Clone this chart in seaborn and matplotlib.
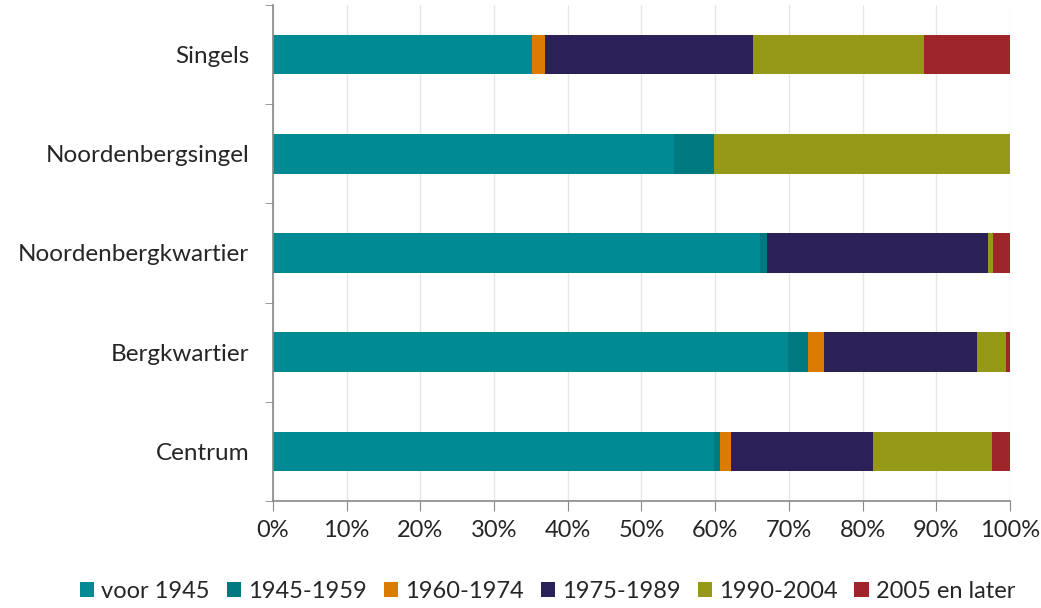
import numpy as np
import pandas as pd
import seaborn as sns
import matplotlib.pyplot as plt
from matplotlib.patches import Patch
from matplotlib.ticker import FixedLocator, PercentFormatter

# share of homes per construction period (%)
areas = ['Singels', 'Noordenbergsingel', 'Noordenbergkwartier', 'Bergkwartier', 'Centrum']
periods = ['voor 1945', '1945-1959', '1960-1974', '1975-1989', '1990-2004', '2005 en later']
voor_1945 = [35.1, 54.4, 66.1, 69.9, 59.8]
p1945_1959 = [0.0, 5.4, 1.0, 2.7, 0.9]
p1960_1974 = [1.8, 0.0, 0.0, 2.2, 1.5]
p1975_1989 = [28.3, 0.0, 29.9, 20.7, 19.2]
p1990_2004 = [23.1, 40.2, 0.7, 4.0, 16.2]
p2005_later = [11.7, 0.0, 2.3, 0.5, 2.4]
colors = ['#008b94', '#007a80', '#d97c00', '#2b2057', '#969818', '#9e262a']

df = pd.DataFrame({'area': areas, 'voor 1945': voor_1945, '1945-1959': p1945_1959,
                   '1960-1974': p1960_1974, '1975-1989': p1975_1989,
                   '1990-2004': p1990_2004, '2005 en later': p2005_later})
cum = df[periods].cumsum(axis=1)
cum['area'] = df['area']

sns.set_style('white')
plt.rcParams['font.family'] = ['Lato', 'DejaVu Sans']

fig = plt.figure(figsize=(10.41, 6.08), dpi=100)
ax = fig.add_axes([0.2622, 0.176, 0.708, 0.8158])

# stacked bars: draw cumulative totals, largest first
for p, c in reversed(list(zip(periods, colors))):
    sns.barplot(data=cum, x=p, y='area', order=areas, color=c, width=0.4,
                orient='h', saturation=1, edgecolor='none', ax=ax)

ax.set_xlim(0, 100)
ax.set_ylim(4.5, -0.5)
ax.set_xlabel('')
ax.set_ylabel('')
ax.xaxis.set_major_locator(FixedLocator(np.arange(0, 101, 10)))
ax.xaxis.set_major_formatter(PercentFormatter(decimals=0))
ax.set_axisbelow(True)
ax.grid(axis='x', color='#e6e6e6', lw=1)
ax.yaxis.set_minor_locator(FixedLocator(np.arange(-0.5, 4.6, 1)))
ax.tick_params(axis='y', which='major', length=0, labelsize=17.5, pad=17)
ax.tick_params(axis='y', which='minor', length=6, color='#888888', left=True)
ax.tick_params(axis='x', length=7, color='#888888', labelsize=17, pad=7, bottom=True)
for s in ['top', 'right']:
    ax.spines[s].set_visible(False)
for s in ['left', 'bottom']:
    ax.spines[s].set_color('#888888')
    ax.spines[s].set_linewidth(1.2)

handles = [Patch(facecolor=c, edgecolor='none', label=p) for p, c in zip(periods, colors)]
fig.legend(handles=handles, loc='lower center', bbox_to_anchor=(0.526, -0.025), ncol=6,
           frameon=False, fontsize=17, handlelength=0.6, handleheight=0.6,
           handletextpad=0.3, columnspacing=0.72)

fig.savefig('out.png', dpi=100)
